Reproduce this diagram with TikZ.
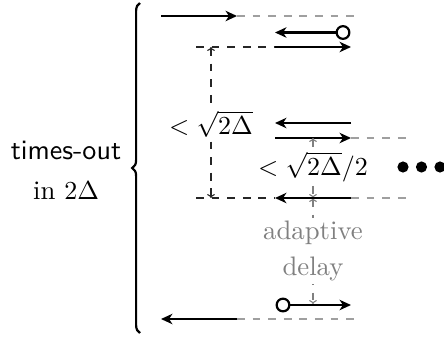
\documentclass[tikz,border=0pt]{standalone}
\usetikzlibrary{arrows.meta,decorations.pathreplacing}
\begin{document}
\begin{tikzpicture}[x=0.385pt,y=-0.385pt,
  font=\fontsize{10.3}{13}\selectfont,
  msg/.style={line width=1.1pt,-{Stealth[length=4.4pt,width=4pt,inset=1.3pt]}},
  gdash/.style={dashed,gray!75,line width=0.4pt},
  bdash/.style={dashed,black!85,line width=0.4pt},
  meas/.style={dashed,line width=0.4pt,{To[length=1.5pt,width=3pt]}-{To[length=1.5pt,width=3pt]}},
  circ/.style={circle,draw,line width=0.85pt,inner sep=0pt,minimum size=4.9pt,fill=white},
  dotn/.style={circle,fill,inner sep=0pt,minimum size=4.3pt},
  lab/.style={fill=white,inner sep=1pt}]
\useasboundingbox (0,0) rectangle (444,337);
% row 1
\coordinate (r1a) at (161,16); \coordinate (r1b) at (237,16); \coordinate (r1c) at (358,16);
\draw[gdash] (r1b) -- (r1c);
\draw[msg] (r1a) -- (r1b);
% row 2
\node[circ] (c2) at (343,32.5) {};
\coordinate (r2b) at (275,32.5);
\draw[msg] (c2) -- (r2b);
% row 3
\coordinate (r3l) at (196,47); \coordinate (r3a) at (275,47); \coordinate (r3b) at (351,47);
\draw[bdash] (r3l) -- (r3a);
\draw[msg] (r3a) -- (r3b);
% row 4
\coordinate (r4a) at (351,123); \coordinate (r4b) at (275,123);
\draw[msg] (r4a) -- (r4b);
% row 5
\coordinate (r5a) at (275,138); \coordinate (r5b) at (351,138); \coordinate (r5c) at (410,138);
\draw[gdash] (r5b) -- (r5c);
\draw[msg] (r5a) -- (r5b);
% row 6
\coordinate (r6l) at (196,198); \coordinate (r6a) at (351,198); \coordinate (r6b) at (275,198); \coordinate (r6c) at (410,198);
\draw[bdash] (r6l) -- (r6b);
\draw[gdash] (r6a) -- (r6c);
% vertical black measure
\coordinate (v1a) at (211,47); \coordinate (v1b) at (211,198);
\draw[meas,black!85] (v1a) -- (v1b);
\node[lab] (l1) at (211,124) {$<\sqrt{2\Delta}$};
% gray measures
\coordinate (v2a) at (313,138); \coordinate (v2b) at (313,198); \coordinate (v3b) at (313,304);
\draw[meas,gray] (v2a) -- (v2b);
\draw[meas,gray] (v2b) -- (v3b);
\draw[msg] (r6a) -- (r6b);
\node[lab] (l2) at (313,167) {$<\sqrt{2\Delta}/2$};
\node[lab,text=gray,align=center] (l3) at (313,251) {adaptive\\[1pt]delay};
% row 7
\node[circ] (c7) at (283,305) {};
\coordinate (r7b) at (351,305);
\draw[msg] (c7) -- (r7b);
% row 8
\coordinate (r8a) at (237,319); \coordinate (r8b) at (161,319); \coordinate (r8c) at (358,319);
\draw[gdash] (r8a) -- (r8c);
\draw[msg] (r8a) -- (r8b);
% dots
\node[dotn] (d1) at (403,167) {};
\node[dotn] (d2) at (421.5,167) {};
\node[dotn] (d3) at (440,167) {};
% brace
\coordinate (b1) at (140,333); \coordinate (b2) at (140,3);
\draw[line width=0.85pt,decorate,decoration={brace,amplitude=3pt}] (b1) -- (b2);
\node[align=center] (tl) at (66,170) {{\sffamily\fontsize{10.8}{13}\selectfont times-out}\\[2.5pt]in $2\Delta$};
\end{tikzpicture}
\end{document}
